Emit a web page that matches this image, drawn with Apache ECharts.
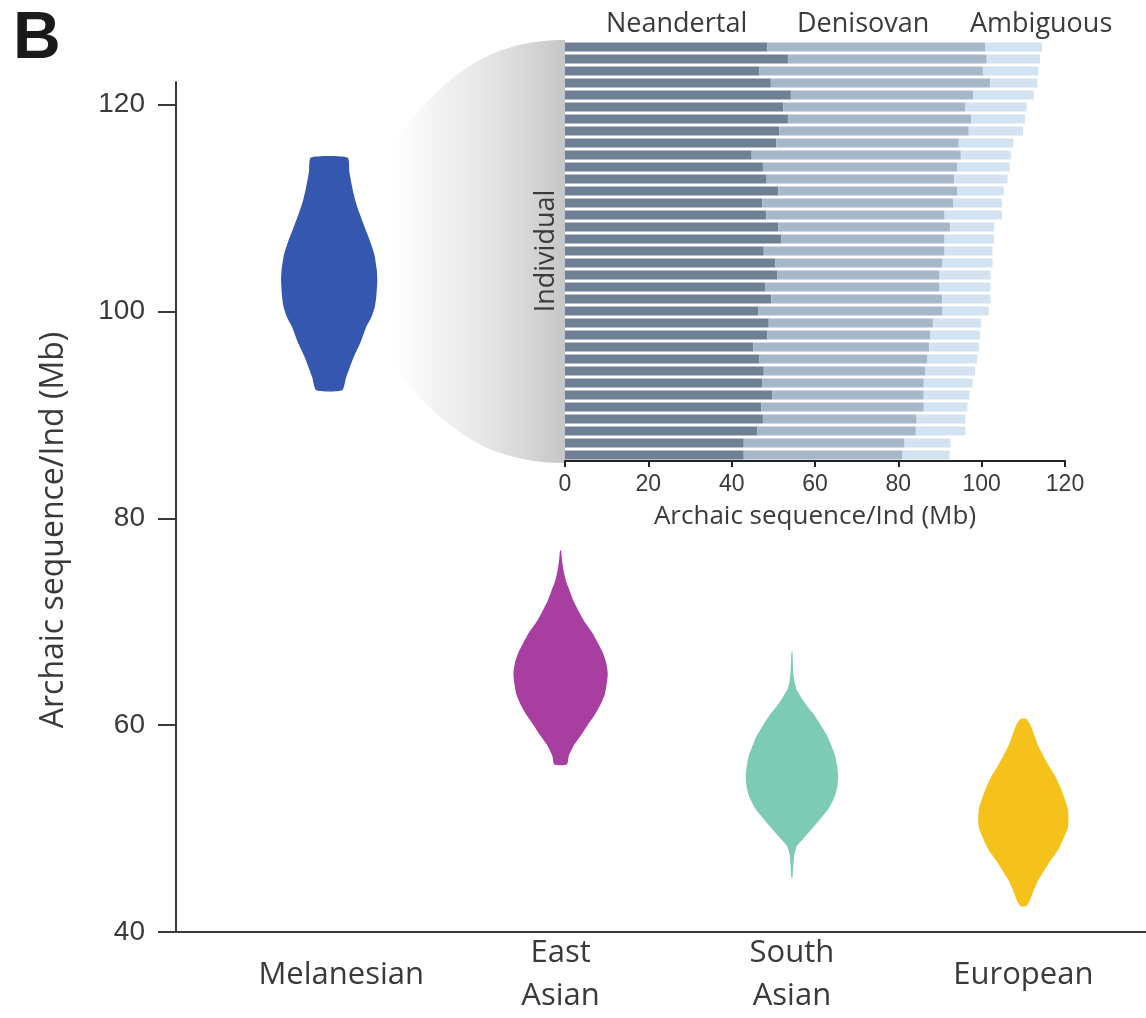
<!DOCTYPE html>
<html>
<head>
<meta charset="utf-8">
<script src="https://cdn.jsdelivr.net/npm/echarts@6/dist/echarts.min.js"></script>
<style>
html,body{margin:0;padding:0;background:#fff;}
#chart{width:1146px;height:1018px;}
</style>
</head>
<body>
<div id="chart"></div>
<script>
// ---------------- DATA ----------------
const populations = ['Melanesian', 'East\nAsian', 'South\nAsian', 'European'];
const yTickValues = [40, 60, 80, 100, 120];

// Violin outlines: archaic sequence value (Mb) and relative density (half-width, max ~1)
const melanesianValues  = [114.9, 113.5, 112, 110.8, 109.5, 108, 106.8, 105.5, 104, 103, 101.5, 100.5, 99.5, 98.5, 97, 95.7, 94.5, 93.6, 92.4];
const melanesianDensity = [0.38, 0.42, 0.48, 0.54, 0.63, 0.75, 0.85, 0.94, 0.99, 1.00, 0.98, 0.95, 0.88, 0.77, 0.65, 0.52, 0.42, 0.35, 0.27];

const eastAsianValues  = [76.9, 76, 75, 74, 73, 72, 71, 70, 69, 68, 67, 66, 65, 64, 63, 62, 61, 60, 59, 58, 57, 56.2];
const eastAsianDensity = [0.01, 0.03, 0.06, 0.11, 0.19, 0.27, 0.38, 0.5, 0.65, 0.77, 0.88, 0.95, 0.98, 0.96, 0.92, 0.83, 0.71, 0.56, 0.42, 0.27, 0.17, 0.13];

const southAsianValues  = [67.1, 66, 65, 64, 63.4, 62.7, 62, 61, 60, 59, 58, 57, 56, 55, 54, 53, 52, 51, 50, 49, 48.3, 47.5, 46.5, 45.2];
const southAsianDensity = [0.01, 0.02, 0.03, 0.06, 0.1, 0.19, 0.29, 0.46, 0.6, 0.73, 0.82, 0.9, 0.94, 0.96, 0.94, 0.88, 0.77, 0.6, 0.42, 0.23, 0.1, 0.05, 0.03, 0.01];

const europeanValues  = [60.6, 60, 59, 58, 57, 56, 55, 54, 53, 52, 51, 50, 49, 48, 47, 46, 45, 44, 43, 42.5];
const europeanDensity = [0.06, 0.15, 0.23, 0.31, 0.42, 0.54, 0.67, 0.77, 0.85, 0.92, 0.94, 0.92, 0.83, 0.73, 0.58, 0.44, 0.31, 0.21, 0.13, 0.06];

// Inset: per-individual archaic sequence (Mb), stacked
const individuals = ['1','2','3','4','5','6','7','8','9','10','11','12','13','14','15','16','17','18',
  '19','20','21','22','23','24','25','26','27','28','29','30','31','32','33','34','35'];
const neandertal = [48.6, 53.5, 46.6, 49.4, 54.2, 52.4, 53.5, 51.4, 50.7, 44.8, 47.5, 48.4, 51.2, 47.3, 48.3, 51.2, 51.9, 47.7,
  50.5, 51.0, 48.0, 49.5, 46.4, 48.9, 48.6, 45.2, 46.6, 47.7, 47.3, 49.8, 47.1, 47.5, 46.1, 42.9, 42.9];
const denisovan = [52.3, 47.7, 53.7, 52.7, 43.8, 43.7, 44.0, 45.5, 43.8, 50.2, 46.6, 45.0, 42.9, 45.9, 42.8, 41.3, 39.2, 43.4,
  40.1, 38.9, 41.9, 41.0, 44.2, 39.4, 39.1, 42.2, 40.4, 38.8, 38.8, 36.3, 39.0, 36.9, 38.1, 38.6, 38.1];
const ambiguous = [13.6, 12.8, 13.3, 11.3, 14.5, 14.7, 12.9, 13.0, 13.1, 12.0, 12.6, 12.8, 11.2, 11.7, 13.8, 10.5, 11.9, 11.5,
  12.0, 12.2, 12.2, 11.6, 11.1, 11.5, 11.9, 12.0, 11.9, 11.9, 11.7, 11.0, 10.5, 11.7, 11.9, 11.0, 11.3];

// ---------------- STYLE ----------------
const violinColors = ['#3557b0', '#a83ea0', '#7ecbb5', '#f5c21b'];
const segmentColors = ['#6e8093', '#a6b7ca', '#d3e3f1'];
const VIOLIN_HALF = 0.208; // max half width in category units
const textColor = '#3a3a3a';
const humanist = '"Open Sans", "Noto Sans", sans-serif';
const helv = '"Liberation Sans", Arial, sans-serif';

const violins = [
  { values: melanesianValues, density: melanesianDensity },
  { values: eastAsianValues, density: eastAsianDensity },
  { values: southAsianValues, density: southAsianDensity },
  { values: europeanValues, density: europeanDensity }
];

const violinData = violins.map((v, i) => [i, Math.min(...v.values), Math.max(...v.values)]);

function renderViolin(params, api) {
  const idx = params.dataIndex;
  const v = violins[idx];
  const left = [], right = [];
  for (let k = 0; k < v.values.length; k++) {
    const hw = v.density[k] * VIOLIN_HALF;
    left.push(api.coord([idx - hw, v.values[k]]));
    right.push(api.coord([idx + hw, v.values[k]]));
  }
  const pts = left.concat(right.reverse());
  return {
    type: 'polygon',
    shape: { points: pts, smooth: 0.2 },
    style: { fill: violinColors[idx] }
  };
}

const chart = echarts.init(document.getElementById('chart'), null, { renderer: 'canvas' });

const legendText = { fontFamily: humanist, fontSize: 27, color: textColor };

const option = {
  animation: false,
  backgroundColor: '#ffffff',
  title: {
    text: 'B', left: 8, top: 2,
    textStyle: { fontFamily: helv, fontSize: 66, fontWeight: 'bold', color: '#1a1a1a' }
  },
  legend: [
    { data: ['Neandertal'], left: 596, top: 6, icon: 'none', itemWidth: 0, itemGap: 0, selectedMode: false, textStyle: legendText },
    { data: ['Denisovan'], left: 787, top: 6, icon: 'none', itemWidth: 0, itemGap: 0, selectedMode: false, textStyle: legendText },
    { data: ['Ambiguous'], left: 960, top: 6, icon: 'none', itemWidth: 0, itemGap: 0, selectedMode: false, textStyle: legendText }
  ],
  grid: [
    { left: 176, right: 0, top: 82, bottom: 81 },
    { left: 565, right: 81, top: 41, height: 420 }
  ],
  xAxis: [
    {
      type: 'value', gridIndex: 0, min: -0.662, max: 3.53,
      splitLine: { show: false },
      axisLine: { show: true, onZero: false, lineStyle: { color: textColor, width: 2 } },
      axisTick: { show: false },
      axisLabel: {
        customValues: [0, 1, 2, 3],
        formatter: (val) => {
          const i = Math.round(val);
          return i === 0 ? '{shift|' + populations[0] + '}' : populations[i];
        },
        fontFamily: humanist, fontSize: 31, color: textColor,
        lineHeight: 43, verticalAlign: 'middle', margin: 43,
        rich: {
          shift: { fontFamily: humanist, fontSize: 31, color: textColor, lineHeight: 43, padding: [0, 0, 0, 24] }
        }
      }
    },
    {
      type: 'value', gridIndex: 1, min: 0, max: 120, interval: 20,
      splitLine: { show: false },
      axisLine: { show: true, onZero: false, lineStyle: { color: '#222', width: 2 } },
      axisTick: { show: true, length: 6, lineStyle: { color: '#222', width: 2 } },
      axisLabel: { fontFamily: helv, fontSize: 23, color: textColor, margin: 12 },
      name: 'Archaic sequence/Ind (Mb)', nameLocation: 'middle', nameGap: 43,
      nameTextStyle: { fontFamily: humanist, fontSize: 26, color: textColor }
    }
  ],
  yAxis: [
    {
      type: 'value', gridIndex: 0, min: 40, max: 122.2,
      splitLine: { show: false },
      axisLine: { show: true, onZero: false, lineStyle: { color: textColor, width: 2 } },
      axisTick: { show: true, customValues: yTickValues, length: 18, lineStyle: { color: textColor, width: 2 } },
      axisLabel: { customValues: yTickValues, fontFamily: helv, fontSize: 28, color: textColor, margin: 31 },
      name: 'Archaic sequence/Ind (Mb)', nameLocation: 'middle', nameGap: 106, nameRotate: 90,
      nameTextStyle: { fontFamily: humanist, fontSize: 32, color: textColor, padding: [0, 46, 0, 0] }
    },
    {
      type: 'category', gridIndex: 1, data: individuals, inverse: true,
      axisLine: { show: false }, axisTick: { show: false }, axisLabel: { show: false },
      name: 'Individual', nameLocation: 'middle', nameGap: 5, nameRotate: 90,
      nameTextStyle: { fontFamily: humanist, fontSize: 27, color: textColor }
    }
  ],
  series: [
    {
      type: 'custom', name: 'Archaic sequence', xAxisIndex: 0, yAxisIndex: 0,
      data: violinData, encode: { x: 0, y: [1, 2] },
      renderItem: renderViolin, z: 3
    },
    {
      type: 'bar', name: 'Neandertal', xAxisIndex: 1, yAxisIndex: 1, stack: 'ind',
      data: neandertal, barCategoryGap: '24%', itemStyle: { color: segmentColors[0] }, z: 4
    },
    {
      type: 'bar', name: 'Denisovan', xAxisIndex: 1, yAxisIndex: 1, stack: 'ind',
      data: denisovan, barCategoryGap: '24%', itemStyle: { color: segmentColors[1] }, z: 4
    },
    {
      type: 'bar', name: 'Ambiguous', xAxisIndex: 1, yAxisIndex: 1, stack: 'ind',
      data: ambiguous, barCategoryGap: '24%', itemStyle: { color: segmentColors[2] }, z: 4
    }
  ]
};

chart.setOption(option);

// Zoom "funnel" linking the Melanesian violin to the inset
(function addFunnel() {
  const pL1 = chart.convertToPixel({ gridIndex: 0 }, [0.28, 116.5]);
  const pL2 = chart.convertToPixel({ gridIndex: 0 }, [0.28, 94.5]);
  const topIdx = chart.convertToPixel({ xAxisIndex: 1, yAxisIndex: 1 }, [0, individuals[0]]);
  const botIdx = chart.convertToPixel({ xAxisIndex: 1, yAxisIndex: 1 }, [0, individuals[individuals.length - 1]]);
  const xL = pL1[0], xR = topIdx[0];
  const yRT = topIdx[1] - 7, yRB = botIdx[1] + 8;
  const w = xR - xL;
  function bez(p0, p1, p2, p3, t) {
    const u = 1 - t;
    return [
      u*u*u*p0[0] + 3*u*u*t*p1[0] + 3*u*t*t*p2[0] + t*t*t*p3[0],
      u*u*u*p0[1] + 3*u*u*t*p1[1] + 3*u*t*t*p2[1] + t*t*t*p3[1]
    ];
  }
  const pts = [];
  const N = 40;
  const t0 = [xL, pL1[1]], t1 = [xL + 0.3 * w, yRT + 0.35 * (pL1[1] - yRT)], t2 = [xL + 0.55 * w, yRT], t3 = [xR, yRT];
  for (let i = 0; i <= N; i++) pts.push(bez(t0, t1, t2, t3, i / N));
  const b0 = [xR, yRB], b1 = [xL + 0.55 * w, yRB], b2 = [xL + 0.3 * w, yRB - 0.35 * (yRB - pL2[1])], b3 = [xL, pL2[1]];
  for (let i = 0; i <= N; i++) pts.push(bez(b0, b1, b2, b3, i / N));
  chart.setOption({
    graphic: [{
      type: 'polygon', z: 0, silent: true,
      shape: { points: pts },
      style: {
        fill: new echarts.graphic.LinearGradient(0, 0, 1, 0, [
          { offset: 0, color: 'rgba(235,235,235,0)' },
          { offset: 0.25, color: 'rgba(232,232,232,0.55)' },
          { offset: 0.7, color: 'rgba(218,218,218,0.95)' },
          { offset: 1, color: '#c6c6c6' }
        ])
      }
    }]
  });
})();
</script>
</body>
</html>
